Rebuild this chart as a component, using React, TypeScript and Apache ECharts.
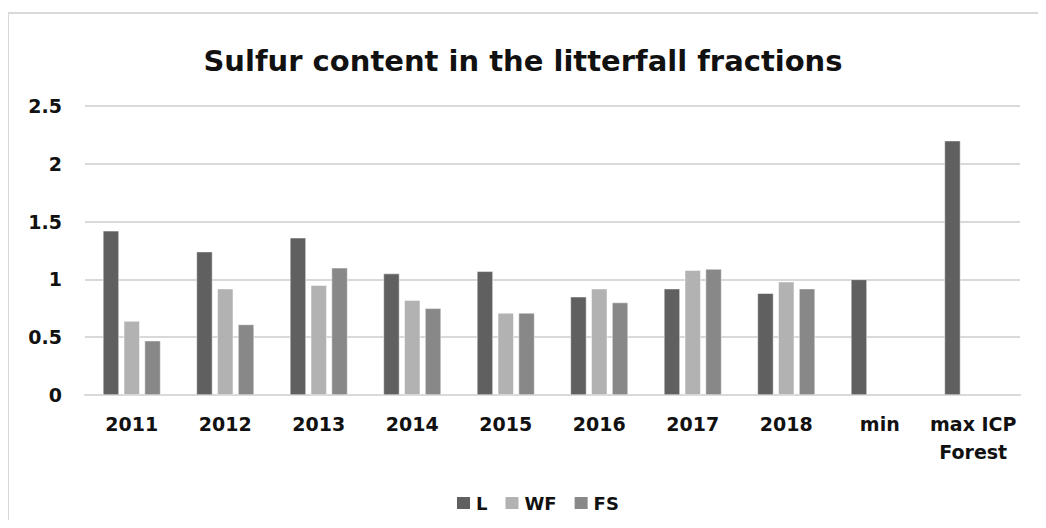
import React, { useEffect, useRef } from "react";
import * as echarts from "echarts";

const categories = ["2011", "2012", "2013", "2014", "2015", "2016", "2017", "2018", "min", "max ICP\nForest"];
const seriesL = [1.42, 1.24, 1.36, 1.05, 1.07, 0.85, 0.92, 0.88, 1.0, 2.2];
const seriesWF = [0.64, 0.92, 0.95, 0.82, 0.71, 0.92, 1.08, 0.98, null, null];
const seriesFS = [0.47, 0.61, 1.1, 0.75, 0.71, 0.8, 1.09, 0.92, null, null];
const yTicks = [0, 0.5, 1, 1.5, 2, 2.5];

const FONT = "'DejaVu Sans', 'Open Sans', sans-serif";

export default function App() {
  const ref = useRef<HTMLDivElement>(null);
  useEffect(() => {
    const chart = echarts.init(ref.current!, null, { renderer: "svg" });
    const barStyle = (c: string) => ({ color: c, borderColor: "#ffffff", borderWidth: 0.5 });
    chart.setOption({
      animation: false,
      backgroundColor: "#ffffff",
      title: {
        text: "Sulfur content in the litterfall fractions",
        left: "center",
        top: 33,
        textStyle: { fontFamily: FONT, fontWeight: "bold", fontSize: 29, color: "#111" },
      },
      graphic: [
        {
          type: "rect",
          shape: { x: 0, y: 5, width: 1060, height: 540 },
          style: { fill: "none", stroke: "#d9d9d9", lineWidth: 2 },
        },
      ],
      legend: {
        bottom: 3,
        left: 442,
        itemWidth: 15,
        itemHeight: 14,
        itemGap: 16,
        icon: "rect",
        textStyle: { fontFamily: FONT, fontWeight: "bold", fontSize: 18, color: "#111" },
        data: ["L", "WF", "FS"],
      },
      grid: { left: 77, right: 18, top: 98, bottom: 125, containLabel: false },
      xAxis: {
        type: "category",
        data: categories,
        axisLine: { lineStyle: { color: "#d9d9d9", width: 2 } },
        axisTick: { show: false },
        axisLabel: {
          fontFamily: FONT,
          fontWeight: "bold",
          fontSize: 19,
          color: "#111",
          margin: 15,
          lineHeight: 28,
          interval: 0,
        },
      },
      yAxis: {
        type: "value",
        min: yTicks[0],
        max: yTicks[yTicks.length - 1],
        interval: 0.5,
        axisLine: { show: false },
        axisTick: { show: false },
        splitLine: { lineStyle: { color: "#d9d9d9", width: 2 } },
        axisLabel: {
          fontFamily: FONT,
          fontWeight: "bold",
          fontSize: 19,
          color: "#111",
          margin: 23,
        },
      },
      series: [
        { name: "L", type: "bar", data: seriesL, barWidth: 16, barGap: "30%", itemStyle: barStyle("#606060") },
        { name: "WF", type: "bar", data: seriesWF, barWidth: 16, barGap: "30%", itemStyle: barStyle("#b2b2b2") },
        { name: "FS", type: "bar", data: seriesFS, barWidth: 16, barGap: "30%", itemStyle: barStyle("#888888") },
      ],
    });
    return () => chart.dispose();
  }, []);
  return <div ref={ref} style={{ width: 1030, height: 512 }} />;
}
